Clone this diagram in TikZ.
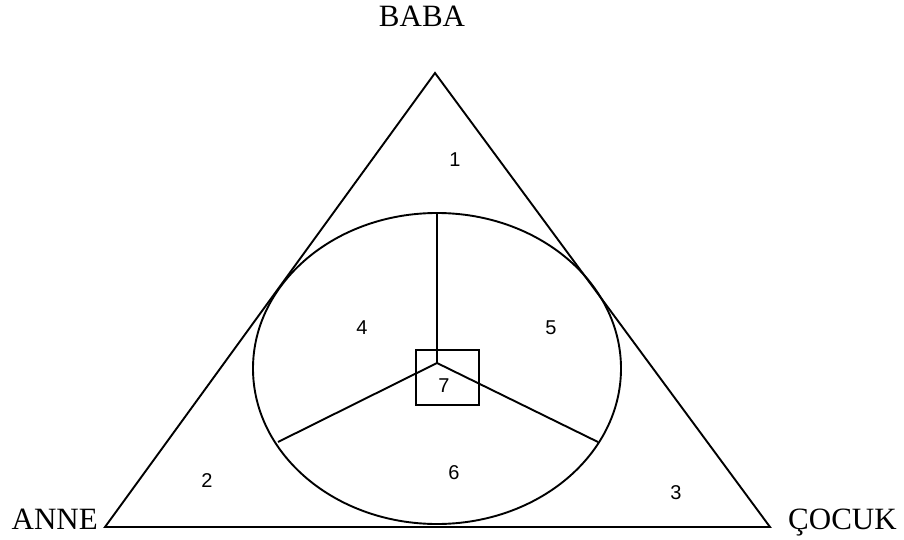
\documentclass[tikz,border=0pt]{standalone}
\usepackage{fontspec}
\setmainfont{Liberation Serif}
\newfontfamily\numfont{Liberation Sans}
\usetikzlibrary{positioning}

\begin{document}
\begin{tikzpicture}[
    x=1pt, y=-1pt,
    edge/.style={line width=1.9pt},
    role/.style={font=\fontsize{31}{31}\selectfont, inner sep=0pt},
    area/.style={font=\numfont\fontsize{20}{20}\selectfont, inner sep=0pt}
]
\useasboundingbox (0,0) rectangle (904,540);
% triangle corners
\coordinate (top) at (435,73);
\coordinate (left) at (105,527);
\coordinate (right) at (770,527);
\draw[edge, line join=miter] (top) -- (left) -- (right) -- cycle;

% ellipse and its spokes
\coordinate (mid) at (437,363);
\draw[edge] (437,368.5) ellipse [x radius=184, y radius=155.5];
\coordinate (ntop) at (437,213);
\coordinate (nleft) at (278,442);
\coordinate (nright) at (598,442);
\draw[edge] (ntop) -- (mid);
\draw[edge] (nleft) -- (mid) -- (nright);
\node[draw, line width=2.8pt, minimum width=63pt, minimum height=55pt, inner sep=0pt] (core) at (447.5,377.5) {};

% region numbers
\node[area] (n1) at (455,160) {1};
\node[area] (n2) at (207,481) {2};
\node[area] (n3) at (676,493) {3};
\node[area] (n4) at (362,328) {4};
\node[area] (n5) at (551,328) {5};
\node[area] (n6) at (454,473) {6};
\node[area] (n7) at (444,386) {7};

% family members
\node[role, anchor=base] (baba) at (422,27) {BABA};
\node[role, anchor=base east] (anne) at (98,529) {ANNE};
\node[role, anchor=base west] (cocuk) at (788,529) {ÇOCUK};
\end{tikzpicture}
\end{document}
